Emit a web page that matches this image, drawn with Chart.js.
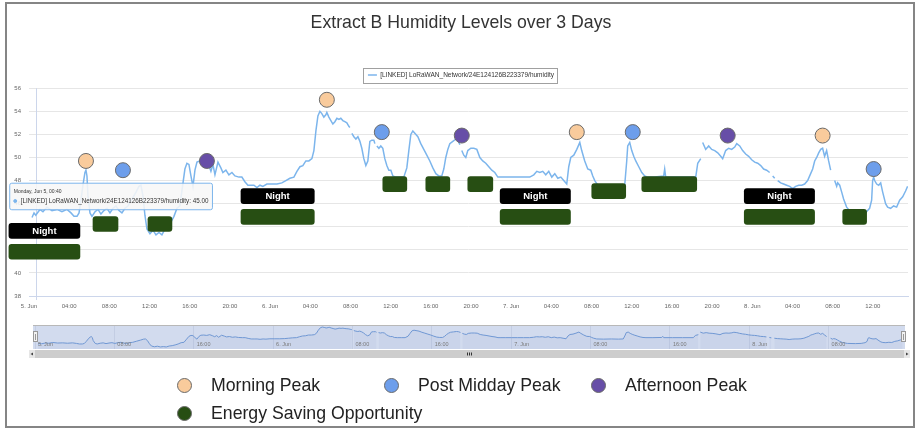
<!DOCTYPE html>
<html><head><meta charset="utf-8">
<script src="https://cdn.jsdelivr.net/npm/chart.js@4.4.1/dist/chart.umd.min.js"></script>
<style>
html,body{margin:0;padding:0;background:#fff;width:918px;height:431px;overflow:hidden;font-family:"Liberation Sans",Arial,Helvetica,sans-serif}
#frame{position:absolute;left:5px;top:2px;width:910px;height:426px;box-sizing:border-box;border:2px solid #858585;}
#main{position:absolute;left:0;top:0;}
#nav{position:absolute;left:28px;top:318px;}
#legend{position:absolute;left:177px;top:375px;display:grid;grid-template-columns:207px 207px 207px;row-gap:8px;font-size:17.7px;color:#222}
.item{display:flex;align-items:center;height:20px;white-space:nowrap}
.dot{width:15px;height:15px;border-radius:50%;border:1px solid #6a6a6a;margin-right:19px;box-sizing:border-box;flex:none}
</style>
</head><body>
<div id="frame"></div>
<canvas id="main" width="918" height="431"></canvas>
<canvas id="nav" width="884" height="44"></canvas>
<div id="legend"></div>
<script>
// ---------------- data ----------------
const chartTitle = 'Extract B Humidity Levels over 3 Days';
const seriesLabel = '[LINKED] LoRaWAN_Network/24E124126B223379/humidity';
// x tick labels every 4 hours starting 5 Jun 00:00
const xTickLabels = ['5. Jun','04:00','08:00','12:00','16:00','20:00',
  '6. Jun','04:00','08:00','12:00','16:00','20:00',
  '7. Jun','04:00','08:00','12:00','16:00','20:00',
  '8. Jun','04:00','08:00','12:00'];
const dayNames = ['Monday, Jun 5','Tuesday, Jun 6','Wednesday, Jun 7','Thursday, Jun 8'];

// hours since 5 Jun 00:00
const hours = [
  0.30,0.50,0.67,1.09,1.39,1.79,2.29,2.79,3.28,3.78,
  4.18,4.48,4.78,4.98,5.17,5.37,5.57,5.67,5.77,5.87,
  6.07,6.27,6.57,6.87,7.16,7.46,7.76,8.06,8.36,8.66,
  8.96,9.25,9.55,9.85,10.25,10.65,10.95,11.14,11.34,11.54,
  11.74,12.04,12.34,12.64,12.94,13.23,13.53,13.83,14.13,14.43,
  14.73,15.02,15.22,15.52,15.72,15.92,16.12,16.32,16.52,16.72,
  17.01,17.31,17.61,17.91,18.11,18.31,18.51,18.81,19.10,19.30,
  19.60,19.90,20.20,20.50,20.90,21.19,21.49,21.79,22.09,22.39,
  22.69,22.99,23.28,23.68,24.18,24.68,25.17,25.57,25.97,26.37,
  26.67,26.97,27.26,27.56,27.86,28.16,28.36,28.56,28.76,28.96,
  29.15,29.35,29.55,29.65,29.85,30.05,30.25,30.45,30.65,30.85,
  31.04,31.24,31.44,31.64,31.84,31.94,32.04,32.14,32.34,32.54,
  32.74,32.94,33.13,33.33,33.53,33.73,33.93,34.13,34.33,34.43,
  34.53,34.63,34.83,35.02,35.22,35.42,35.62,35.82,36.02,36.22,
  36.52,36.92,37.31,37.61,37.81,38.01,38.21,38.41,38.71,39.00,
  39.30,39.60,39.90,40.20,40.50,40.80,41.09,41.29,41.49,41.69,
  41.89,42.19,42.49,42.69,42.89,43.00,43.08,43.28,43.48,43.68,
  43.98,44.28,44.58,44.88,45.17,45.47,45.77,46.07,46.37,46.67,
  46.97,47.46,48.06,48.66,49.25,49.85,50.25,50.55,50.85,51.14,
  51.44,51.74,52.04,52.34,52.64,52.94,53.23,53.53,53.73,53.93,
  54.23,54.53,54.83,55.02,55.32,55.62,55.92,56.12,56.32,56.62,
  57.31,58.11,58.81,59.30,59.50,59.60,59.80,60.00,60.20,60.40,
  60.70,61.00,61.29,61.59,62.29,63.18,63.28,63.38,64.28,65.27,
  66.37,66.57,66.87,66.97,67.06,67.36,67.66,67.96,68.26,68.56,
  68.86,69.05,69.35,69.65,69.95,70.25,70.45,70.75,71.04,71.34,
  71.64,71.94,72.24,72.54,72.84,73.13,73.43,73.73,73.88,74.03,
  74.23,74.38,74.53,74.83,75.12,75.42,75.72,76.02,76.32,76.62,
  76.92,77.21,77.51,77.81,78.01,78.21,78.41,78.61,78.81,79.00,
  79.20,79.40,79.60,79.80,80.00,80.20,80.40,80.50,80.70,80.90,
  81.09,81.39,81.89,82.69,83.28,83.48,83.68,83.88,83.98,84.08,
  84.18,84.38,84.58,84.78,84.98,85.27,85.47,85.77,86.07,86.37,
  86.67,86.97,87.26,87.46
];
const humidity = [
  44.8,45.2,45.0,45.5,45.3,45.7,45.4,45.5,45.3,45.5,
  45.2,44.9,44.9,45.2,46.3,47.6,48.7,48.9,48.4,46.7,
  45.2,44.9,45.3,45.5,45.1,45.4,45.6,45.2,45.6,45.8,
  45.4,45.2,45.6,45.8,46.4,47.0,47.5,47.6,46.7,45.0,
  43.8,43.4,43.7,43.3,43.5,43.3,43.8,44.0,44.4,44.9,
  45.6,45.8,47.1,49.0,49.5,49.4,48.4,47.5,48.9,49.6,
  49.7,49.5,49.9,49.3,48.8,49.4,48.5,49.6,49.1,48.7,
  48.9,48.5,48.7,48.4,48.3,48.3,47.9,47.6,47.6,47.6,
  47.4,47.6,47.5,47.7,47.7,47.7,47.8,48.0,48.2,48.3,
  48.8,49.2,49.3,49.7,49.7,49.9,50.6,52.3,53.6,54.0,
  53.8,53.5,53.7,53.9,53.5,53.2,52.9,53.1,53.4,53.3,
  53.4,53.2,53.1,53.0,52.7,52.6,null,52.1,51.8,51.6,
  51.8,51.4,50.8,49.9,49.3,49.7,51.4,51.5,51.5,51.2,
  null,51.0,50.8,51.0,50.8,49.9,49.3,48.9,48.9,48.4,
  48.3,48.3,48.3,49.1,50.6,52.0,52.3,52.1,51.8,51.2,
  50.7,50.2,49.7,49.1,48.6,48.4,48.4,49.0,50.0,50.7,
  51.2,51.4,51.6,51.5,51.1,null,50.6,50.2,50.0,50.6,
  50.8,50.8,50.7,50.0,49.7,49.5,49.2,48.9,48.7,48.3,
  48.3,48.3,48.3,48.3,48.3,48.3,48.5,48.8,48.7,48.8,
  48.5,48.8,48.3,48.6,48.2,48.3,48.0,47.7,49.2,50.0,
  50.2,50.7,51.3,50.6,49.7,49.0,48.9,48.4,48.0,47.6,
  47.5,47.6,47.5,47.6,49.7,51.0,51.3,50.6,50.1,49.7,
  49.2,48.7,48.4,48.3,48.3,48.4,49.0,48.3,48.3,48.3,
  48.3,49.5,49.9,null,51.3,50.7,51.0,50.7,50.6,50.4,
  50.1,49.9,50.6,50.8,50.7,50.9,51.2,51.0,50.6,50.3,
  50.1,49.8,49.6,49.5,49.3,49.0,48.9,48.7,null,48.4,
  48.2,null,48.0,47.8,47.7,47.6,47.5,47.3,47.5,47.6,
  47.6,47.7,48.0,48.6,49.0,49.7,50.0,50.4,50.7,50.8,
  50.1,50.6,49.7,48.9,null,48.0,47.5,47.8,47.6,47.0,
  46.4,45.7,45.2,45.1,45.2,45.4,45.6,46.3,48.0,48.3,
  48.0,47.7,47.6,47.8,47.0,46.0,45.7,45.6,45.8,45.7,
  46.3,46.6,47.1,47.5
];

// annotation markers
const morningPeakHours = [5.67, 29.65, 54.53, 79.0];
const morningPeakValues = [49.7, 55.0, 52.2, 51.9];
const postMiddayHours = [9.35, 35.12, 60.1, 84.08];
const postMiddayValues = [48.9, 52.2, 52.2, 49.0];
const afternoonHours = [17.71, 43.08, 69.55];
const afternoonValues = [49.7, 51.9, 51.9];

// annotation boxes (start hour, end hour, level)
const nightStart = [-2.0, 21.1, 46.9, 71.2];
const nightEnd   = [5.07, 28.4, 53.9, 78.2];
const nightLevel = [43.64, 46.65, 46.65, 46.65];
const savingStart = [-2.0, 6.37, 11.84, 21.1, 35.22, 39.5, 43.68, 46.9, 56.02, 61.0, 71.2, 81.0];
const savingEnd   = [5.07, 8.86, 14.23, 28.4, 37.61, 41.89, 46.17, 53.9, 59.4, 66.47, 78.2, 83.38];
const savingLevel = [41.83, 44.24, 44.24, 44.85, 47.69, 47.69, 47.69, 44.85, 47.09, 47.69, 44.85, 44.85];

const tooltipHour = 0.67;

// ---------------- helpers ----------------
Chart.defaults.font.family = '"Liberation Sans", Arial, Helvetica, sans-serif';
const pad2 = n => String(n).padStart(2,'0');
function fmtTime(h){
  const d = Math.floor(h/24); const rem = h - d*24;
  let hh = Math.floor(rem), mm = Math.round((rem-hh)*60);
  if (mm === 60) { hh += 1; mm = 0; }
  return dayNames[d] + ', ' + pad2(hh) + ':' + pad2(mm);
}
const lineData = hours.map((h,i)=>({x:h, y:humidity[i]}));
const toPts = (xs,ys)=>xs.map((x,i)=>({x, y:ys[i]}));
const toBars = (s,e,l)=>s.map((v,i)=>({x:[v,e[i]], y:l[i]}));

Chart.Tooltip.positioners.fixedNear = function(items){
  if (!items.length) return false;
  const el = items[0].element;
  return {x: el.x - 24, y: el.y - 32, xAlign:'left', yAlign:'top'};
};

const crosshair = {
  id:'crosshair',
  beforeDatasetsDraw(chart){
    const act = chart.tooltip && chart.tooltip.getActiveElements();
    if (!act || !act.length) return;
    const x = Math.round(act[0].element.x) + 0.5, a = chart.chartArea, c = chart.ctx;
    c.save(); c.strokeStyle = '#ccd6eb'; c.lineWidth = 1;
    c.beginPath(); c.moveTo(x, a.top); c.lineTo(x, a.bottom + 4); c.stroke(); c.restore();
  }
};
const nightText = {
  id:'nightText',
  afterDatasetsDraw(chart){
    const idx = chart.data.datasets.findIndex(d=>d.label==='Night');
    const meta = chart.getDatasetMeta(idx); const c = chart.ctx;
    c.save(); c.fillStyle = '#fff'; c.font = 'bold 9.5px "Liberation Sans", Arial';
    c.textAlign = 'center'; c.textBaseline = 'middle';
    meta.data.forEach(el=>{ c.fillText(chart.data.datasets[idx].label, (el.x+el.base)/2, el.y+0.5); });
    c.restore();
  }
};
const legendBox = {
  id:'legendBox',
  afterDraw(chart){
    const hb = chart.legend && chart.legend.legendHitBoxes && chart.legend.legendHitBoxes[0];
    if (!hb) return; const c = chart.ctx;
    c.save(); c.strokeStyle = '#a0a0a0'; c.lineWidth = 1;
    c.strokeRect(Math.round(hb.left - 5) + 0.5, Math.round(hb.top - 3.5) + 0.5, Math.round(hb.width + 8), 15);
    c.restore();
  }
};

const peakSeries = [
  {label:'Morning Peak', xs:morningPeakHours, ys:morningPeakValues, color:'#f9cb9c'},
  {label:'Post Midday Peak', xs:postMiddayHours, ys:postMiddayValues, color:'#6d9eeb'},
  {label:'Afternoon Peak', xs:afternoonHours, ys:afternoonValues, color:'#674ea7'}
];
const savingColor = '#274e13';

const datasets = [
  {label: seriesLabel, data: lineData, borderColor:'#7cb5ec', backgroundColor:'#7cb5ec', borderWidth:1.5,
   pointRadius:0, pointHoverRadius:0, spanGaps:false, tension:0, order:10}
];
peakSeries.forEach(p=>datasets.push({type:'scatter', label:p.label, data:toPts(p.xs,p.ys),
  backgroundColor:p.color, borderColor:'#6a6a6a', borderWidth:1, pointRadius:7.5, pointHoverRadius:7.5, order:1, clip:false}));
datasets.push({type:'bar', label:'Night', indexAxis:'y', data:toBars(nightStart,nightEnd,nightLevel),
  backgroundColor:'#000000', borderRadius:3, borderSkipped:false, barThickness:15, stack:'ann', clip:false, order:5});
datasets.push({type:'bar', label:'Energy Saving Opportunity', indexAxis:'y', data:toBars(savingStart,savingEnd,savingLevel),
  backgroundColor:savingColor, borderRadius:3, borderSkipped:false, barThickness:15, stack:'ann', clip:false, order:5});

const chart = new Chart(document.getElementById('main').getContext('2d'), {
  type:'line',
  data:{datasets},
  options:{
    responsive:false, animation:false, events:[],
    layout:{padding:{left:14,right:10,top:0,bottom:115}},
    plugins:{
      title:{display:true, text:chartTitle, color:'#333', font:{size:17.7, weight:'normal'}, padding:{top:12,bottom:34.5}},
      legend:{display:true, position:'top',
        labels:{filter:it=>it.datasetIndex===0, usePointStyle:true, pointStyle:'line', pointStyleWidth:9,
          font:{size:6.5}, color:'#333', padding:4}},
      tooltip:{enabled:true, position:'fixedNear', xAlign:'left', yAlign:'top', caretSize:0, caretPadding:0, cornerRadius:2,
        backgroundColor:'rgba(247,247,247,0.88)', borderColor:'#7cb5ec', borderWidth:1,
        titleColor:'#333', bodyColor:'#333', titleFont:{size:5, weight:'normal'}, bodyFont:{size:6.3},
        titleMarginBottom:3, padding:{left:4,right:4,top:5,bottom:5},
        displayColors:true, usePointStyle:true, boxWidth:3, boxHeight:3, boxPadding:2,
        filter: it=>it.datasetIndex===0,
        callbacks:{
          title: items=>fmtTime(items[0].parsed.x),
          label: it=>it.dataset.label + ': ' + it.parsed.y.toFixed(2),
          labelColor: ()=>({borderColor:'#7cb5ec', backgroundColor:'#7cb5ec'}),
          labelPointStyle: ()=>({pointStyle:'circle', rotation:0})
        }}
    },
    scales:{
      x:{type:'linear', min:0, max:87.5, offset:false, stacked:false,
        grid:{display:false, drawTicks:false}, border:{display:true, color:'#ccd6eb'},
        ticks:{stepSize:4, includeBounds:false, autoSkip:false, maxRotation:0, padding:7, font:{size:6}, color:'#666',
          callback:v=>xTickLabels[v/4]},
        afterFit(s){ s.height = 20; }},
      y:{type:'linear', min:38, max:56, offset:false,
        grid:{color:'#e6e6e6', drawTicks:false, offset:false}, border:{display:false},
        ticks:{stepSize:2, padding:8, font:{size:6}, color:'#666'},
        afterFit(s){ s.width = 15; }}
    }
  },
  plugins:[crosshair, nightText, legendBox]
});
const tipIndex = hours.indexOf(tooltipHour);
chart.tooltip.setActiveElements([{datasetIndex:0, index:tipIndex}], {x:0, y:0});
chart.update('none');

// ---------------- navigator ----------------
const navDecor = {
  id:'navDecor',
  beforeDraw(ch){ const {ctx:c, chartArea:a} = ch; c.save(); c.fillStyle = '#d2dbee';
    c.fillRect(a.left-2, a.top, a.right-a.left+4, a.bottom-a.top); c.restore(); },
  afterDatasetsDraw(ch){
    const {ctx:c, chartArea:a} = ch; const sx = ch.scales.x;
    c.save(); c.fillStyle = '#7a7a7a'; c.font = '5.5px "Liberation Sans", Arial';
    c.textAlign = 'left'; c.textBaseline = 'middle';
    sx.ticks.forEach(t=>{ const lbl = xTickLabels[t.value/4]; if (lbl) c.fillText(lbl, sx.getPixelForValue(t.value) + 3, a.bottom - 5); });
    c.restore();
  },
  afterDraw(ch){
    const {ctx:c, chartArea:a} = ch; c.save();
    c.strokeStyle = '#b8b8b8'; c.lineWidth = 1;
    c.beginPath(); c.moveTo(a.left-2, a.top+0.5); c.lineTo(a.right+2, a.top+0.5); c.stroke();
    const my = Math.round((a.top+a.bottom)/2);
    [a.left, a.right].forEach(x=>{
      x = Math.round(x);
      c.fillStyle = '#f2f2f2'; c.strokeStyle = '#999'; c.fillRect(x-2, my-6, 5, 11);
      c.strokeRect(x-2+0.5, my-6+0.5, 4, 10);
      c.beginPath(); c.moveTo(x+0.5, my-3); c.lineTo(x+0.5, my+3); c.stroke();
    });
    const sy = a.bottom + 1, sh = 8;
    c.fillStyle = '#f2f2f2'; c.fillRect(a.left-6, sy, a.right-a.left+13, sh);
    c.fillStyle = '#cdcdcd'; c.fillRect(a.left, sy, a.right-a.left+1, sh);
    c.fillStyle = '#e6e6e6'; c.fillRect(a.left-6, sy, 6, sh); c.fillRect(a.right+1, sy, 6, sh);
    c.fillStyle = '#444';
    c.beginPath(); c.moveTo(a.left-4.5, sy+4); c.lineTo(a.left-2, sy+2.5); c.lineTo(a.left-2, sy+5.5); c.fill();
    c.beginPath(); c.moveTo(a.right+5.5, sy+4); c.lineTo(a.right+3, sy+2.5); c.lineTo(a.right+3, sy+5.5); c.fill();
    const gx = Math.round((a.left+a.right)/2);
    c.strokeStyle = '#333'; c.beginPath();
    [-2,0,2].forEach(d=>{ c.moveTo(gx+d+0.5, sy+2.5); c.lineTo(gx+d+0.5, sy+5.5); });
    c.stroke();
    c.restore();
  }
};
new Chart(document.getElementById('nav').getContext('2d'), {
  type:'line',
  data:{datasets:[{label:seriesLabel, data:lineData, borderColor:'#7098d4', borderWidth:1, pointRadius:0,
    fill:'start', backgroundColor:'rgba(51,92,173,0.05)', spanGaps:false, tension:0}]},
  options:{
    responsive:false, animation:false, events:[],
    layout:{padding:{left:7,right:9,top:7,bottom:13}},
    plugins:{legend:{display:false}, tooltip:{enabled:false}, title:{display:false}},
    scales:{
      x:{type:'linear', min:0, max:87.5, grid:{drawTicks:false, color:'#c3cde3'}, border:{display:false},
        ticks:{display:false, stepSize:8, includeBounds:false, autoSkip:false, maxRotation:0},
        afterFit(s){ s.height = 0; }},
      y:{display:false, min:42.2, max:55.1}
    }
  },
  plugins:[navDecor]
});

// ---------------- bottom legend (HTML) ----------------
const legendItems = peakSeries.map(p=>({label:p.label, color:p.color}))
  .concat([{label:'Energy Saving Opportunity', color:savingColor}]);
const lg = document.getElementById('legend');
legendItems.forEach(it=>{
  const d = document.createElement('div'); d.className = 'item';
  const s = document.createElement('span'); s.className = 'dot'; s.style.background = it.color;
  d.appendChild(s); d.appendChild(document.createTextNode(it.label)); lg.appendChild(d);
});
</script>
</body></html>
